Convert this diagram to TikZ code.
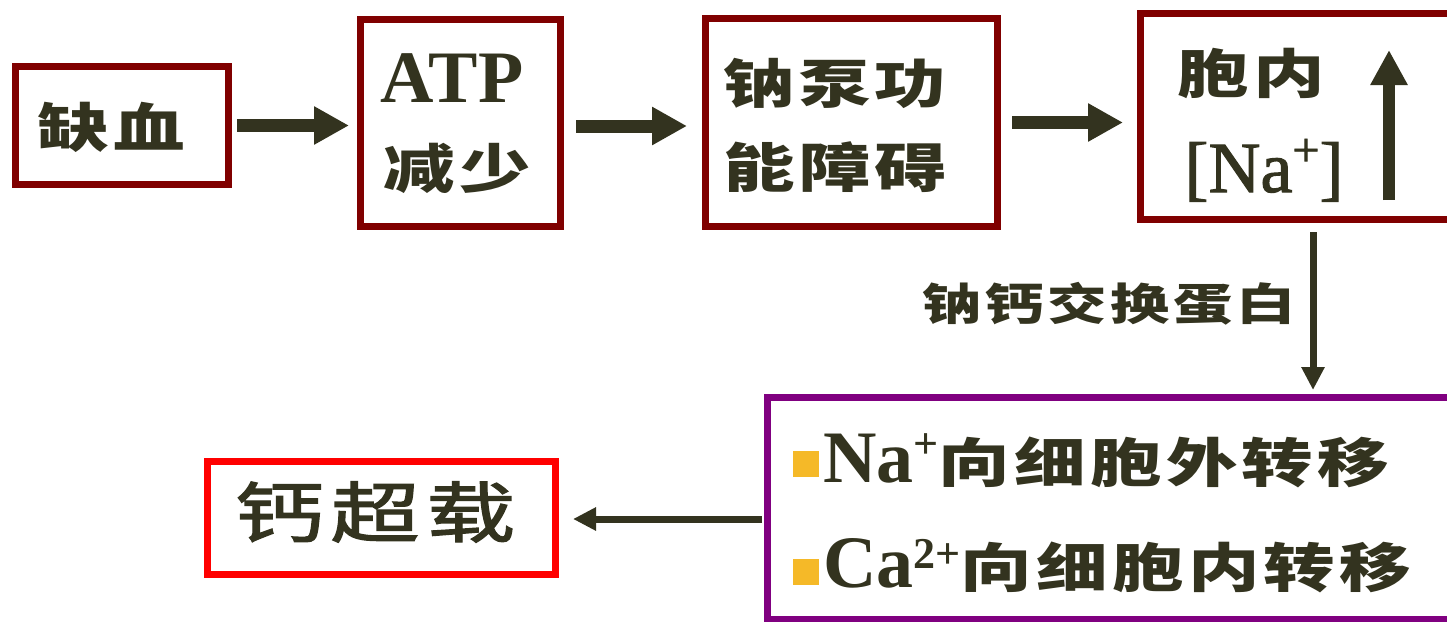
\documentclass[tikz,border=0pt]{standalone}
\usepackage{fontspec}
\newfontfamily\tnr{Liberation Serif}
\newfontfamily\tnrb[FakeBold=1.5]{Liberation Serif}
\newfontfamily\cjk[FakeStretch=1.35,LetterSpace=8]{Noto Sans CJK SC}
\newfontfamily\cjkr[FakeStretch=1.35,LetterSpace=10,FakeBold=2]{Noto Sans CJK SC}
\usetikzlibrary{arrows.meta,calc}
\definecolor{txt}{RGB}{51,51,31}
\definecolor{dred}{RGB}{128,0,0}
\definecolor{purp}{RGB}{128,0,128}
\definecolor{bul}{RGB}{245,185,40}
\tikzset{
  box/.style={draw=dred, line width=7pt, inner sep=0pt},
  cn/.style={font=\cjk\bfseries\fontsize{53}{60}\selectfont, text=txt, inner sep=0pt},
  lat/.style={text=txt, inner sep=0pt},
  conn/.style={draw=txt, line width=13pt, -{Triangle[length=35pt,width=36pt]}},
  thinconn/.style={draw=txt, line width=7pt, -{Triangle[length=23pt,width=22pt]}},
  bulsq/.style={fill=bul, minimum size=26pt, inner sep=0pt}
}
\begin{document}
\begin{tikzpicture}[x=1pt,y=-1pt]
\useasboundingbox (0,0) rectangle (1447,621);
\clip (0,0) rectangle (1447,621);
\fill[white] (0,0) rectangle (1447,621);
% boxes
\node[box, minimum width=213pt, minimum height=118pt] (b1) at (122,125.5) {};
\node[box, minimum width=200pt, minimum height=207pt] (b2) at (460.5,123) {};
\node[box, minimum width=292pt, minimum height=208pt] (b3) at (851.5,122.5) {};
\node[box, minimum width=311pt, minimum height=206pt] (b4) at (1296,116.5) {};
\node[box, draw=purp, minimum width=684pt, minimum height=222pt] (pb) at (1109.5,508.5) {};
\node[box, draw=red, minimum width=348pt, minimum height=113pt] (rb) at (381.5,518) {};
% texts
\node[cn] (t1) at (111,127) {缺血};
\node[lat, anchor=base, font=\tnr\bfseries\fontsize{74}{80}\selectfont] (t2a) at (452,102) {ATP};
\node[cn] (t2b) at (457,168) {减少};
\node[cn] (t3a) at (835,83) {钠泵功};
\node[cn] (t3b) at (835,167) {能障碍};
\node[cn] (t4a) at (1251,73) {胞内};
\node[lat, anchor=base, font=\tnrb\fontsize{72}{80}\selectfont] (t4b) at (1264,192) {[Na\raisebox{26pt}{\fontsize{48}{48}\selectfont +}]};
\draw[draw=txt, line width=12pt, -{Triangle[length=35pt,width=35pt]}] (1389,200) -- (1389,50);
\node[cn, font=\cjk\bfseries\fontsize{44}{50}\selectfont] (lab) at (1109,304) {钠钙交换蛋白};
\node[bulsq] (s1) at (806,463.5) {};
\node[bulsq] (s2) at (806,571.5) {};
\node[lat, anchor=base west] (l1) at (823,482) {{\tnr\bfseries\fontsize{74}{80}\selectfont Na\raisebox{24pt}{\fontsize{44}{44}\selectfont +}}{\cjk\bfseries\fontsize{53}{60}\selectfont 向细胞外转移}};
\node[lat, anchor=base west] (l2) at (823,587) {{\tnr\bfseries\fontsize{74}{80}\selectfont Ca\raisebox{19pt}{\fontsize{44}{44}\selectfont 2+}}{\cjk\bfseries\fontsize{53}{60}\selectfont 向细胞内转移}};
\node[inner sep=0pt, text=txt, font=\cjkr\fontsize{66}{70}\selectfont] (t5) at (375,512) {钙超载};
% connectors
\draw[conn] ($(b1.east)+(5,0)$) -- ($(b2.west|-b1.east)+(-8,0)$);
\draw[conn] ($(b2.east)+(12,3)$) -- ($(b3.west|-b2.east)+(-15,3)$);
\draw[conn] ($(b3.east)+(11,0)$) -- ($(b4.west|-b3.east)+(-14,0)$);
\coordinate (vx) at (1313,0);
\draw[thinconn] ($(vx|-b4.south)+(0,9)$) -- ($(vx|-pb.north)+(0,-4)$);
\draw[thinconn] ($(pb.west|-rb.east)+(-2,1)$) -- ($(rb.east)+(14,1)$);
\end{tikzpicture}
\end{document}
